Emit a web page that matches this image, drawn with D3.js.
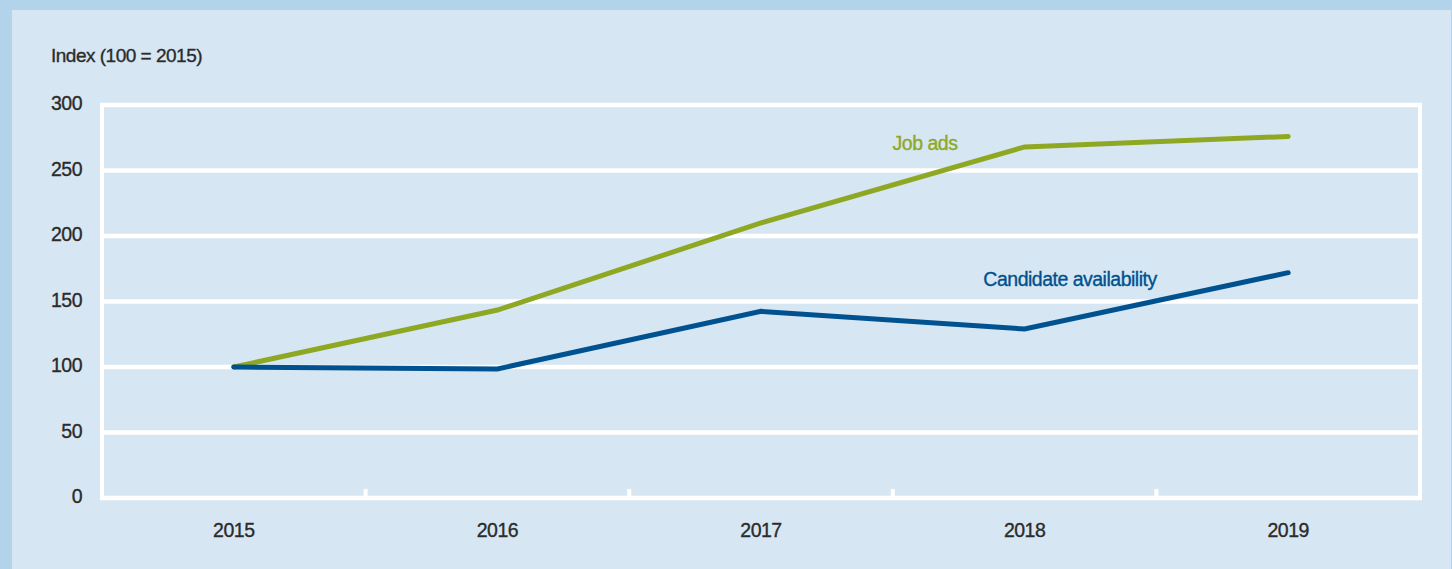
<!DOCTYPE html>
<html lang="en">
<head>
    <meta charset="UTF-8">
    <title>Job ads vs candidate availability</title>
    <script src="https://d3js.org/d3.v7.min.js"></script>
    <style>
        body { margin: 0; background: #b2d3e9; }
        svg { display: block; }
        text {
            font-family: "Liberation Sans", Arial, sans-serif;
            fill: #2b2b2b;
            stroke: #2b2b2b;
            stroke-width: 0.35px;
            letter-spacing: -0.5px;
        }
    </style>
</head>
<body>
    <svg width="1452" height="569"></svg>

    <script>
        // values
        let years = ['2015', '2016', '2017', '2018', '2019'];
        let jobAds = [100, 143.5, 210, 268, 276];
        let candidates = [100, 98.5, 142.5, 129, 172];
        let yTicks = [0, 50, 100, 150, 200, 250, 300];

        let svg = d3.select('svg');

        // panel background
        svg.append('rect')
            .attr('x', 12).attr('y', 10)
            .attr('width', 1439).attr('height', 559)
            .style('fill', '#d6e7f3');

        let x = d3.scaleBand().domain(years).range([102, 1420]);
        let y = d3.scaleLinear().domain([0, 300]).range([498, 105]);

        // gridlines
        svg.append('g').selectAll('line').data(yTicks).enter().append('line')
            .attr('x1', 100).attr('x2', 1422)
            .attr('y1', d => y(d)).attr('y2', d => y(d))
            .style('stroke', '#fff').style('stroke-width', 4.5);

        // left + right frame
        svg.append('line')
            .attr('x1', 102).attr('x2', 102).attr('y1', y(300) - 2).attr('y2', y(0) + 2)
            .style('stroke', '#fff').style('stroke-width', 4);
        svg.append('line')
            .attr('x1', 1420).attr('x2', 1420).attr('y1', y(300) - 2).attr('y2', y(0) + 2)
            .style('stroke', '#fff').style('stroke-width', 4);

        // x ticks between categories
        svg.append('g').selectAll('line').data(years.slice(1)).enter().append('line')
            .attr('x1', d => x(d)).attr('x2', d => x(d))
            .attr('y1', y(0)).attr('y2', y(0) - 9)
            .style('stroke', '#fff').style('stroke-width', 4);

        // y tick labels
        svg.append('g').selectAll('text').data(yTicks).enter().append('text')
            .attr('x', 82).attr('y', d => y(d) + 5)
            .attr('text-anchor', 'end')
            .style('font-size', '19.5px')
            .text(d => d);

        // x labels
        svg.append('g').selectAll('text').data(years).enter().append('text')
            .attr('x', d => x(d) + x.bandwidth() / 2).attr('y', 537)
            .attr('text-anchor', 'middle')
            .style('font-size', '19.5px')
            .text(d => d);

        svg.append('text')
            .attr('x', 51).attr('y', 62)
            .style('font-size', '19px')
            .text('Index (100 = 2015)');

        let line = d3.line()
            .x((d, i) => x(years[i]) + x.bandwidth() / 2)
            .y(d => y(d));

        svg.append('path').datum(jobAds)
            .attr('d', line)
            .style('fill', 'none').style('stroke', '#8fa823')
            .style('stroke-width', 5).style('stroke-linecap', 'round');

        svg.append('path').datum(candidates)
            .attr('d', line)
            .style('fill', 'none').style('stroke', '#00518f')
            .style('stroke-width', 5).style('stroke-linecap', 'round');

        svg.append('text')
            .attr('x', 925).attr('y', 150)
            .attr('text-anchor', 'middle')
            .style('font-size', '19.5px').style('fill', '#8fa823').style('stroke', '#8fa823')
            .text('Job ads');

        svg.append('text')
            .attr('x', 1070).attr('y', 286)
            .attr('text-anchor', 'middle')
            .style('font-size', '19.5px').style('fill', '#00518f').style('stroke', '#00518f')
            .text('Candidate availability');
    </script>
</body>
</html>
